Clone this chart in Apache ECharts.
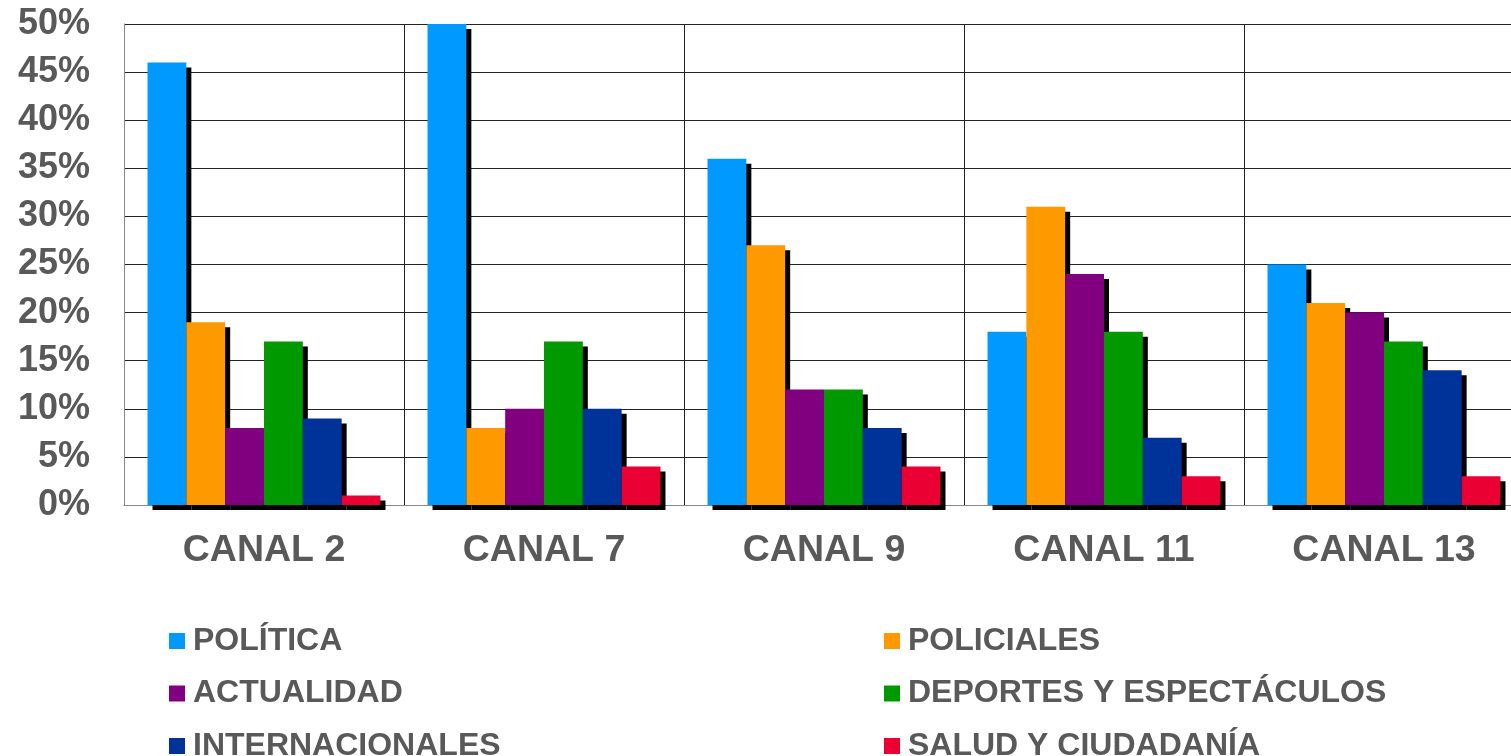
<!DOCTYPE html>
<html>
<head>
<meta charset="utf-8">
<script src="https://cdn.jsdelivr.net/npm/echarts@6/dist/echarts.min.js"></script>
<style>
html,body{margin:0;padding:0;background:#fff;}
#chart{width:1511px;height:756px;}
</style>
</head>
<body>
<div id="chart"></div>
<script>
const categories = ['CANAL 2', 'CANAL 7', 'CANAL 9', 'CANAL 11', 'CANAL 13'];
const seriesNames = ['POLÍTICA', 'POLICIALES', 'ACTUALIDAD', 'DEPORTES Y ESPECTÁCULOS', 'INTERNACIONALES', 'SALUD Y CIUDADANÍA'];
const politica = [46, 50, 36, 18, 25];
const policiales = [19, 8, 27, 31, 21];
const actualidad = [8, 10, 12, 24, 20];
const deportes = [17, 17, 12, 18, 17];
const internacionales = [9, 10, 8, 7, 14];
const salud = [1, 4, 4, 3, 3];
const colors = ['#0099FF', '#FF9900', '#800080', '#009900', '#003399', '#EA0032'];

const values = [politica, policiales, actualidad, deportes, internacionales, salud];
const gray = '#595959';
const font = '"Liberation Sans", Arial, sans-serif';

const legendText = { color: gray, fontFamily: font, fontWeight: 'bold', fontSize: 32, lineHeight: 31, padding: [0, 0, 0, 3] };

const chart = echarts.init(document.getElementById('chart'));
chart.setOption({
  animation: false,
  color: colors,
  grid: { left: 124, width: 1400, top: 24, bottom: 251, containLabel: false, outerBoundsMode: 'none' },
  xAxis: {
    type: 'category',
    data: categories,
    boundaryGap: true,
    axisLine: { show: true, lineStyle: { color: '#888', width: 1 } },
    axisTick: { show: false },
    axisLabel: { color: gray, fontFamily: font, fontWeight: 'bold', fontSize: 37.5, margin: 27 },
    splitLine: { show: true, lineStyle: { color: '#222', width: 1 } }
  },
  yAxis: {
    type: 'value',
    min: 0, max: 50, interval: 5,
    axisLine: { show: true, lineStyle: { color: '#888', width: 1 } },
    axisTick: { show: false },
    axisLabel: { color: gray, fontFamily: font, fontWeight: 'bold', fontSize: 36, margin: 34, formatter: '{value}%' },
    splitLine: { show: true, lineStyle: { color: '#222', width: 1 } }
  },
  legend: [
    {
      data: [seriesNames[0], seriesNames[2], seriesNames[4]],
      orient: 'vertical', left: 169, top: 625, height: 200, padding: 0,
      icon: 'rect', itemWidth: 16, itemHeight: 16, itemGap: 20.5,
      textStyle: legendText
    },
    {
      data: [seriesNames[1], seriesNames[3], seriesNames[5]],
      orient: 'vertical', left: 884, top: 625, height: 200, padding: 0,
      icon: 'rect', itemWidth: 16, itemHeight: 16, itemGap: 20.5,
      textStyle: legendText
    }
  ],
  series: seriesNames.map((name, i) => ({
    name: name,
    type: 'bar',
    data: values[i],
    barGap: '0%',
    barCategoryGap: '16.8%',
    itemStyle: {
      color: colors[i],
      shadowColor: '#000',
      shadowBlur: 0,
      shadowOffsetX: 5,
      shadowOffsetY: 5
    }
  }))
});
</script>
</body>
</html>
